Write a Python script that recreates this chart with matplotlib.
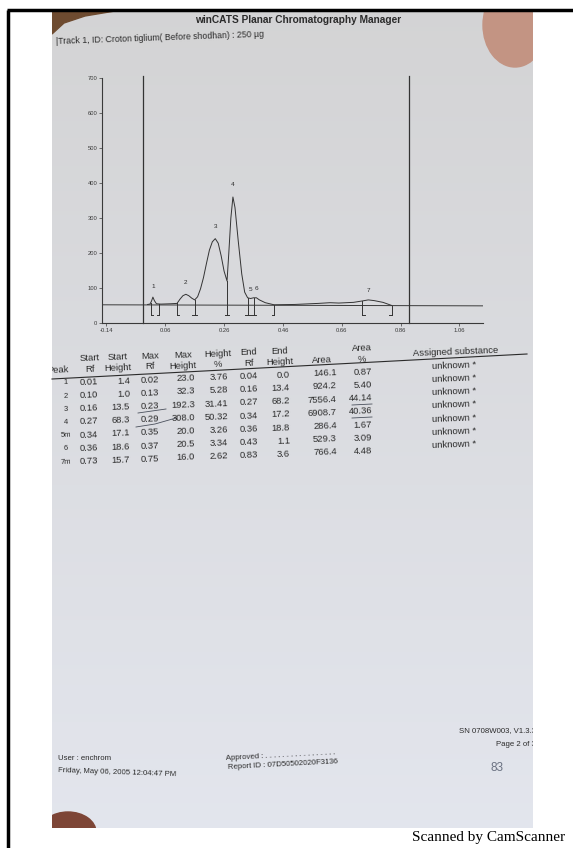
import numpy as np
import matplotlib.pyplot as plt
from matplotlib.patches import Rectangle, Ellipse, Polygon

plt.rcParams['font.family'] = ['Liberation Sans', 'DejaVu Sans']

# densitogram trace (Rf, AU)
trace_rf = [0.00, 0.008, 0.013, 0.018, 0.023, 0.03, 0.045, 0.08, 0.10, 0.11, 0.12,
            0.13, 0.14, 0.15, 0.16, 0.17, 0.18, 0.19, 0.20, 0.21, 0.22, 0.23,
            0.24, 0.25, 0.26, 0.27, 0.276, 0.283, 0.29, 0.297, 0.308, 0.32,
            0.33, 0.34, 0.35, 0.36, 0.37, 0.38, 0.40, 0.43, 0.50, 0.58, 0.62,
            0.65, 0.70, 0.73, 0.75, 0.77, 0.80, 0.83]
trace_au = [53, 54, 62, 74, 64, 55, 54, 55, 56, 68, 78,
            82, 78, 71, 66, 75, 98, 130, 170, 208, 232, 241,
            228, 192, 148, 120, 200, 300, 360, 330, 235, 140,
            88, 72, 70, 72, 72, 66, 58, 52, 53, 56, 58,
            57, 59, 63, 66, 64, 59, 50]

baseline_rf = [-0.155, 1.14]
baseline_au = [52, 49]
track_lines = [-0.017, 0.887]

# integration table
peak_ids = ["1", "2", "3", "4", "5m", "6", "7m"]
start_rf = [0.01, 0.10, 0.16, 0.27, 0.34, 0.36, 0.73]
start_height = [1.4, 1.0, 13.5, 68.3, 17.1, 18.6, 15.7]
max_rf = [0.02, 0.13, 0.23, 0.29, 0.35, 0.37, 0.75]
max_height = [23.0, 32.3, 192.3, 308.0, 20.0, 20.5, 16.0]
height_pct = [3.76, 5.28, 31.41, 50.32, 3.26, 3.34, 2.62]
end_rf = [0.04, 0.16, 0.27, 0.34, 0.36, 0.43, 0.83]
end_height = [0.0, 13.4, 68.2, 17.2, 18.8, 1.1, 3.6]
area = [146.1, 924.2, 7556.4, 6908.7, 286.4, 529.3, 766.4]
area_pct = [0.87, 5.40, 44.14, 40.36, 1.67, 3.09, 4.48]
substance = ["unknown *"] * 7

x_ticks = [-0.14, 0.06, 0.26, 0.46, 0.66, 0.86, 1.06]
y_ticks = [0, 100, 200, 300, 400, 500, 600, 700]

ink = '#2b2b2b'

fig = plt.figure(figsize=(5.73, 8.48), dpi=100)
bg = fig.add_axes([0, 0, 1, 1])
bg.set_xlim(0, 573)
bg.set_ylim(848, 0)
bg.axis('off')

# black scan frame
bg.plot([7, 573], [10, 10], color='black', lw=2.5, solid_capstyle='butt')
bg.plot([8, 8], [10, 848], color='black', lw=2.5, solid_capstyle='butt')

# photographed page
page = Rectangle((52, 11), 481, 817, facecolor='none', edgecolor='none')
bg.add_patch(page)
t = np.linspace(0, 1, 200)[:, None, None]
top = np.array([0.83, 0.83, 0.835])
bot = np.array([0.89, 0.90, 0.93])
grad = top + (bot - top) * t
grad = np.repeat(grad, 2, axis=1)
im = bg.imshow(grad, extent=[52, 533, 828, 11], aspect='auto', zorder=0)
im.set_clip_path(page)
for p in [Polygon([(52, 11), (115, 11), (85, 16), (64, 23), (52, 34)], color='#6e4b30'),
          Ellipse((515, 25), 64, 84, color='#c39483'),
          Ellipse((68, 832), 56, 40, color='#7d4536')]:
    p.set_zorder(1)
    bg.add_patch(p)
    p.set_clip_path(page)

bg.text(298, 20, 'winCATS Planar Chromatography Manager', ha='center', va='center',
        fontsize=7.3, fontweight='bold', color=ink)
bg.text(56, 38, '|Track 1, ID: Croton tiglium( Before shodhan) : 250 \u00b5g', ha='left',
        va='center', fontsize=6.3, color=ink, rotation=2)

# chart
ax = fig.add_axes([102 / 573, 1 - 323 / 848, 381 / 573, 245 / 848])
ax.set_facecolor('none')
ax.set_xlim(-0.155, 1.14)
ax.set_ylim(0, 700)
for s in ['top', 'right']:
    ax.spines[s].set_visible(False)
for s in ['left', 'bottom']:
    ax.spines[s].set_linewidth(0.8)
    ax.spines[s].set_color('#3a3a3a')
ax.set_xticks(x_ticks)
ax.set_xticklabels([f'{v:.2f}' for v in x_ticks])
ax.set_yticks(y_ticks)
ax.tick_params(labelsize=4.2, length=2, width=0.5, pad=1.5, colors='#3a3a3a')

ax.plot(baseline_rf, baseline_au, color='#3a3a3a', lw=0.7)
ax.plot(trace_rf, trace_au, color='#333333', lw=0.7)
for xv in track_lines:
    ax.plot([xv, xv], [0, 705], color='#333333', lw=0.9, clip_on=False)

# peak boundary markers
bounds = {}
for s, e in zip(start_rf, end_rf):
    bounds.setdefault(s, set()).add('start')
    bounds.setdefault(e, set()).add('end')
tk = 0.008
low = 22
for xv, kinds in bounds.items():
    yv = np.interp(xv, trace_rf, trace_au)
    ax.plot([xv, xv], [low, yv], color='#333333', lw=0.7)
    x0 = xv - tk if 'end' in kinds else xv
    x1 = xv + tk if 'start' in kinds else xv
    ax.plot([x0, x1], [low, low], color='#333333', lw=0.7)

for i, (xv, name) in enumerate(zip(max_rf, peak_ids)):
    yv = np.interp(xv, trace_rf, trace_au)
    off = 7 if i < 4 else 5
    ax.annotate(str(i + 1), (xv, yv), xytext=(0, off), textcoords='offset points',
                ha='center', va='bottom', fontsize=4.6, color=ink)

# results table
slope = 0.037
rot = np.degrees(np.arctan(slope))
row_step = 13.2


def row_y(x, i):
    return 382 - slope * (x - 90) + row_step * i


headers = [('', 'Peak', 58), ('Start', 'Rf', 90), ('Start', 'Height', 118),
           ('Max', 'Rf', 150), ('Max', 'Height', 183), ('Height', '%', 218),
           ('End', 'Rf', 249), ('End', 'Height', 280), ('', 'Area', 322),
           ('Area', '%', 362)]
for l1, l2, xc in headers:
    y2 = 369 - slope * (xc - 90)
    for txt, yy in [(l1, y2 - 10.5), (l2, y2)]:
        if txt:
            tt = bg.text(xc, yy, txt, ha='center', va='center', fontsize=6.8,
                         color=ink, rotation=rot, clip_on=True)
            tt.set_clip_path(page)
bg.text(455, 352, 'Assigned substance', ha='center', va='center', fontsize=6.8,
        color=ink, rotation=rot)
bg.plot([52, 527], [379, 354], color=ink, lw=0.8)

columns = [(start_rf, 98, '{:.2f}'), (start_height, 130, '{:.1f}'),
           (max_rf, 159, '{:.2f}'), (max_height, 195, '{:.1f}'),
           (height_pct, 228, '{:.2f}'), (end_rf, 258, '{:.2f}'),
           (end_height, 290, '{:.1f}'), (area, 337, '{:.1f}'),
           (area_pct, 372, '{:.2f}')]
for vals, xr, fmt in columns:
    for i, v in enumerate(vals):
        bg.text(xr, row_y(xr - 8, i), fmt.format(v), ha='right', va='center',
                fontsize=6.8, color=ink, rotation=rot)
for i, name in enumerate(peak_ids):
    bg.text(66, row_y(66, i), name, ha='center', va='center', fontsize=5.5,
            color=ink, rotation=rot)
for i, name in enumerate(substance):
    bg.text(432, row_y(455, i) - 3, name, ha='left', va='center', fontsize=6.8,
            color=ink, rotation=rot)

# pen marks under a few table entries
pen = '#4a505c'
bg.plot([138, 152, 166], [413, 411, 409], color=pen, lw=0.6)
bg.plot([136, 155, 176], [427, 424, 418], color=pen, lw=0.6)
bg.plot([352, 372], [405, 404], color=pen, lw=0.6)
bg.plot([352, 372], [418, 417], color=pen, lw=0.6)

# footer
foot = 5.6
bg.text(58, 758, 'User : enchrom', fontsize=foot, color=ink, va='center')
bg.text(58, 773, 'Friday, May 06, 2005 12:04:47 PM', fontsize=foot, color=ink,
        va='center', rotation=-2)
bg.text(226, 756, 'Approved : . . . . . . . . . . . . . . . . .', fontsize=foot,
        color=ink, va='center', rotation=3)
bg.text(228, 765, 'Report ID : 07D50502020F3136', fontsize=foot, color=ink,
        va='center', rotation=3)
for txt, yy in [('SN 0708W003, V1.3.3', 731), ('Page 2 of 3', 744)]:
    tt = bg.text(536, yy, txt, fontsize=foot, color=ink, va='center', ha='right',
                 clip_on=True)
    tt.set_clip_path(page)
bg.text(497, 768, '83', fontsize=8.5, color='#6b7282', va='center', ha='center')
bg.text(565, 838, 'Scanned by CamScanner', fontsize=11, family='Liberation Serif',
        color='black', va='center', ha='right')

fig.savefig('out.png', dpi=100)
